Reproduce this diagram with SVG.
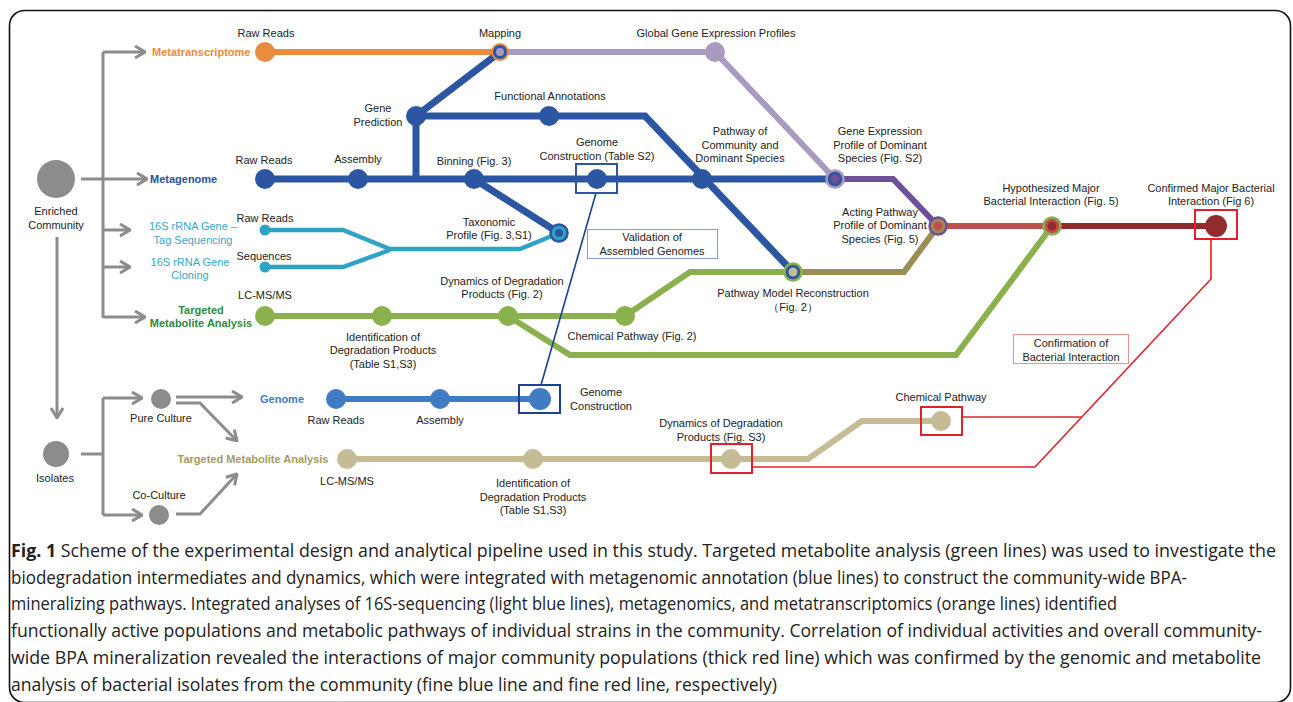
<svg xmlns="http://www.w3.org/2000/svg" width="1293" height="702" viewBox="0 0 1293 702">
  <style>
    text { font-family: "Liberation Sans", Arial, sans-serif; font-size: 11px; fill: #222; }
    .c { text-anchor: middle; }
    .hd { font-weight: bold; }
    .cap { font-family: "Open Sans", "Liberation Sans", sans-serif; font-size: 18px; fill: #222; }
    .ln { fill: none; stroke-linejoin: miter; stroke-linecap: butt; }
    .gray { fill: none; stroke: #8c8c8c; stroke-width: 3; }
    .blue { stroke: #2c56a2; stroke-width: 7; }
    .org { stroke: #eb8b3d; stroke-width: 6; }
    .lav { stroke: #a99ac1; stroke-width: 6; }
    .teal { stroke: #2ea3c3; stroke-width: 4.5; }
    .grn { stroke: #8bb14f; stroke-width: 6; }
    .olv { stroke: #9a8e55; stroke-width: 6; }
    .pur { stroke: #6e4f9a; stroke-width: 6; }
    .red { stroke: #c0504d; stroke-width: 6; }
    .dred { stroke: #922b2e; stroke-width: 6; }
    .mblue { stroke: #3f7cc3; stroke-width: 6; }
    .khk { stroke: #c5bc96; stroke-width: 6; }
    .fblue { stroke: #1f3f96; stroke-width: 1.6; }
    .fred { stroke: #e0202a; stroke-width: 1.6; }
  </style>
  <defs>
    <marker id="chev" viewBox="0 0 12 14" refX="11" refY="7" markerWidth="12" markerHeight="14" markerUnits="userSpaceOnUse" orient="auto">
      <polyline points="1,1 11,7 1,13" fill="none" stroke="#8c8c8c" stroke-width="3"/>
    </marker>
  </defs>

  <!-- frame -->
  <rect x="9.5" y="10.5" width="1281" height="692" rx="15" fill="#fff" stroke="#111" stroke-width="1.6"/>

  <!-- connectors -->
  <g id="connectors">
    <!-- sample distribution arrows -->
    <path class="gray" d="M81,179 H147" marker-end="url(#chev)"/>
    <path class="gray" d="M103,52 V318"/>
    <path class="gray" d="M103,52 H145" marker-end="url(#chev)"/>
    <path class="gray" d="M103,230 H130" marker-end="url(#chev)"/>
    <path class="gray" d="M103,267 H130" marker-end="url(#chev)"/>
    <path class="gray" d="M103,317 H145" marker-end="url(#chev)"/>
    <path class="gray" d="M57,237 V418" marker-end="url(#chev)"/>
    <path class="gray" d="M81,454 H103"/>
    <path class="gray" d="M103,398 V515"/>
    <path class="gray" d="M103,398 H142" marker-end="url(#chev)"/>
    <path class="gray" d="M103,515 H142" marker-end="url(#chev)"/>
    <path class="gray" d="M176,397 H242" marker-end="url(#chev)"/>
    <path class="gray" d="M176,403 H200 L237,441" marker-end="url(#chev)"/>
    <path class="gray" d="M176,514 H200 L237,474" marker-end="url(#chev)"/>

    <!-- metatranscriptome -->
    <path class="ln org" d="M265,52 H500"/>
    <path class="ln lav" d="M500,52 H715 L835,179"/>
    <!-- metagenome -->
    <path class="ln blue" d="M265,179 H835"/>
    <path class="ln blue" d="M416,182 V116"/>
    <path class="ln blue" d="M416,116 L500,52"/>
    <path class="ln blue" d="M416,116 H645 L793,272"/>
    <path class="ln blue" d="M474,179 L559,233"/>
    <!-- 16S -->
    <path class="ln teal" d="M265,230 H343 L390,249 H520 L559,233"/>
    <path class="ln teal" d="M265,267 H343 L390,250"/>
    <!-- targeted metabolite analysis (community) -->
    <path class="ln grn" d="M265,316 H625 L690,272 H793"/>
    <path class="ln grn" d="M508,316 L570,355 H956 L1052,226"/>
    <path class="ln olv" d="M793,272 H904 L938,226"/>
    <path class="ln pur" d="M835,179 H893 L938,226"/>
    <path class="ln red" d="M938,226 H1052"/>
    <path class="ln dred" d="M1052,226 H1216"/>
    <!-- isolates -->
    <path class="ln mblue" d="M336,399 H540"/>
    <path class="ln khk" d="M347,459 H808 L862,421 H941"/>
    <!-- validation links -->
    <path class="ln fblue" d="M596,193 L541,385"/>
    <path class="ln fred" d="M1211,239 V279 L1035,467 H752"/>
    <path class="ln fred" d="M962,417 H1081"/>
  </g>

  <!-- start nodes -->
  <g id="enriched-community">
    <circle cx="56" cy="179" r="19" fill="#8c8c8c"/>
    <text class="c" x="56" y="215">Enriched</text>
    <text class="c" x="56" y="229">Community</text>
  </g>
  <g id="isolates">
    <circle cx="56" cy="454" r="13" fill="#8c8c8c"/>
    <text class="c" x="55" y="482">Isolates</text>
  </g>
  <g id="pure-culture">
    <circle cx="161" cy="399" r="10" fill="#8c8c8c"/>
    <text class="c" x="161" y="422">Pure Culture</text>
  </g>
  <g id="co-culture">
    <circle cx="159" cy="515" r="10" fill="#8c8c8c"/>
    <text class="c" x="159" y="499">Co-Culture</text>
  </g>

  <!-- track titles -->
  <g id="titles">
    <text class="hd" x="152" y="56" style="fill:#eb8b3d">Metatranscriptome</text>
    <text class="hd" x="150" y="183" style="fill:#2c4f9c">Metagenome</text>
    <text class="c" x="193" y="230" style="fill:#39a6c9">16S rRNA Gene –</text>
    <text class="c" x="193" y="244" style="fill:#39a6c9">Tag Sequencing</text>
    <text class="c" x="190" y="266" style="fill:#39a6c9">16S rRNA Gene</text>
    <text class="c" x="190" y="279" style="fill:#39a6c9">Cloning</text>
    <text class="c hd" x="201" y="314" style="fill:#2d8a3c">Targeted</text>
    <text class="c hd" x="201" y="327" style="fill:#2d8a3c">Metabolite Analysis</text>
    <text class="c hd" x="282" y="403" style="fill:#3f7cc3">Genome</text>
    <text class="c hd" x="253" y="463" style="fill:#a69a5e">Targeted Metabolite Analysis</text>
  </g>

  <!-- metatranscriptome nodes -->
  <g id="mt-raw-reads">
    <circle cx="265" cy="52" r="10" fill="#eb8b3d"/>
    <text class="c" x="266" y="37">Raw Reads</text>
  </g>
  <g id="mapping">
    <circle cx="500" cy="52" r="8" fill="#2c56a2" stroke="#eb8b3d" stroke-width="2"/>
    <circle cx="500" cy="52" r="4" fill="#a99ac1"/>
    <text class="c" x="500" y="37">Mapping</text>
  </g>
  <g id="global-expression">
    <circle cx="715" cy="52" r="10" fill="#a99ac1"/>
    <text class="c" x="716" y="37">Global Gene Expression Profiles</text>
  </g>

  <!-- metagenome nodes -->
  <g id="mg-raw-reads">
    <circle cx="265" cy="179" r="10" fill="#2c56a2"/>
    <text class="c" x="264" y="164">Raw Reads</text>
  </g>
  <g id="mg-assembly">
    <circle cx="358" cy="179" r="10" fill="#2c56a2"/>
    <text class="c" x="358" y="163">Assembly</text>
  </g>
  <g id="gene-prediction">
    <circle cx="416" cy="116" r="10" fill="#2c56a2"/>
    <text class="c" x="378" y="112">Gene</text>
    <text class="c" x="378" y="126">Prediction</text>
  </g>
  <g id="functional-annotations">
    <circle cx="549" cy="116" r="10" fill="#2c56a2"/>
    <text class="c" x="550" y="100">Functional Annotations</text>
  </g>
  <g id="binning">
    <circle cx="474" cy="179" r="10" fill="#2c56a2"/>
    <text class="c" x="474" y="165">Binning (Fig. 3)</text>
  </g>
  <g id="genome-construction">
    <circle cx="597" cy="179" r="10" fill="#2c56a2"/>
    <rect x="576" y="164" width="41" height="29" fill="none" stroke="#2c56a2" stroke-width="2"/>
    <text class="c" x="597" y="146">Genome</text>
    <text class="c" x="597" y="160">Construction (Table S2)</text>
  </g>
  <g id="community-pathway">
    <circle cx="702" cy="179" r="10" fill="#2c56a2"/>
    <text class="c" x="740" y="135">Pathway of</text>
    <text class="c" x="740" y="149">Community and</text>
    <text class="c" x="740" y="162">Dominant Species</text>
  </g>
  <g id="dominant-expression">
    <circle cx="835" cy="179" r="8.5" fill="#2c56a2" stroke="#a99ac1" stroke-width="2.5"/>
    <circle cx="835" cy="179" r="4.5" fill="#6e4f9a"/>
    <text class="c" x="880" y="135">Gene Expression</text>
    <text class="c" x="880" y="149">Profile of Dominant</text>
    <text class="c" x="880" y="162">Species (Fig. S2)</text>
  </g>

  <!-- 16S nodes -->
  <g id="tag-raw-reads">
    <circle cx="265" cy="230" r="5.5" fill="#2ea3c3"/>
    <text class="c" x="265" y="222">Raw Reads</text>
  </g>
  <g id="clone-sequences">
    <circle cx="265" cy="267" r="5.5" fill="#2ea3c3"/>
    <text class="c" x="264" y="260">Sequences</text>
  </g>
  <g id="taxonomic-profile">
    <circle cx="559" cy="233" r="8.5" fill="#2ea3c3" stroke="#2c56a2" stroke-width="2.5"/>
    <circle cx="559" cy="233" r="4" fill="#2c56a2"/>
    <text class="c" x="489" y="226">Taxonomic</text>
    <text class="c" x="489" y="239">Profile (Fig. 3,S1)</text>
  </g>

  <g id="validation-note">
    <rect x="587.5" y="229.5" width="130" height="29" fill="#fff" stroke="#8a9ccb" stroke-width="1"/>
    <text class="c" x="652" y="241">Validation of</text>
    <text class="c" x="652" y="255">Assembled Genomes</text>
  </g>

  <!-- community metabolite nodes -->
  <g id="lcms">
    <circle cx="265" cy="316" r="10" fill="#8bb14f"/>
    <text class="c" x="265" y="299">LC-MS/MS</text>
  </g>
  <g id="identification">
    <circle cx="382" cy="316" r="10" fill="#8bb14f"/>
    <text class="c" x="383" y="341">Identification of</text>
    <text class="c" x="383" y="354">Degradation Products</text>
    <text class="c" x="383" y="368">(Table S1,S3)</text>
  </g>
  <g id="degradation-dynamics">
    <circle cx="508" cy="316" r="10" fill="#8bb14f"/>
    <text class="c" x="502" y="285">Dynamics of Degradation</text>
    <text class="c" x="502" y="298">Products (Fig. 2)</text>
  </g>
  <g id="chemical-pathway">
    <circle cx="625" cy="316" r="10" fill="#8bb14f"/>
    <text class="c" x="632" y="340">Chemical Pathway (Fig. 2)</text>
  </g>
  <g id="pathway-model">
    <circle cx="793" cy="272" r="8.5" fill="#2c56a2" stroke="#8bb14f" stroke-width="2.5"/>
    <circle cx="793" cy="272" r="4.5" fill="#c5bc96"/>
    <text class="c" x="793" y="297">Pathway Model Reconstruction</text>
    <text class="c" x="793" y="311">（Fig. 2）</text>
  </g>
  <g id="acting-pathway">
    <circle cx="938" cy="226" r="8.5" fill="#9a8e55" stroke="#6e4f9a" stroke-width="2.5"/>
    <circle cx="938" cy="226" r="4.5" fill="#c0504d"/>
    <text class="c" x="880" y="216">Acting Pathway</text>
    <text class="c" x="880" y="229">Profile of Dominant</text>
    <text class="c" x="880" y="243">Species (Fig. 5)</text>
  </g>
  <g id="hypothesized-interaction">
    <circle cx="1052" cy="226" r="8.5" fill="#c0504d" stroke="#8bb14f" stroke-width="2.5"/>
    <circle cx="1052" cy="226" r="4.5" fill="#922b2e"/>
    <text class="c" x="1051" y="192">Hypothesized Major</text>
    <text class="c" x="1051" y="205">Bacterial Interaction (Fig. 5)</text>
  </g>
  <g id="confirmed-interaction">
    <circle cx="1216" cy="226" r="11" fill="#922b2e"/>
    <rect x="1195" y="210" width="42" height="29" fill="none" stroke="#e0202a" stroke-width="2"/>
    <text class="c" x="1211" y="192">Confirmed Major Bacterial</text>
    <text class="c" x="1211" y="205">Interaction (Fig 6)</text>
  </g>
  <g id="confirmation-note">
    <rect x="1013.5" y="334.5" width="115" height="29" fill="#fff" stroke="#f09090" stroke-width="1"/>
    <text class="c" x="1071" y="347">Confirmation of</text>
    <text class="c" x="1071" y="361">Bacterial Interaction</text>
  </g>

  <!-- isolate genome nodes -->
  <g id="iso-raw-reads">
    <circle cx="336" cy="399" r="10" fill="#3f7cc3"/>
    <text class="c" x="336" y="424">Raw Reads</text>
  </g>
  <g id="iso-assembly">
    <circle cx="440" cy="399" r="10" fill="#3f7cc3"/>
    <text class="c" x="440" y="424">Assembly</text>
  </g>
  <g id="iso-genome-construction">
    <circle cx="540" cy="399" r="11" fill="#3f7cc3"/>
    <rect x="519" y="385" width="41" height="28" fill="none" stroke="#1f3f96" stroke-width="2"/>
    <text class="c" x="601" y="396">Genome</text>
    <text class="c" x="601" y="410">Construction</text>
  </g>

  <!-- isolate metabolite nodes -->
  <g id="iso-lcms">
    <circle cx="347" cy="459" r="10" fill="#c5bc96"/>
    <text class="c" x="347" y="485">LC-MS/MS</text>
  </g>
  <g id="iso-identification">
    <circle cx="533" cy="459" r="10" fill="#c5bc96"/>
    <text class="c" x="533" y="487">Identification of</text>
    <text class="c" x="533" y="501">Degradation Products</text>
    <text class="c" x="533" y="514">(Table S1,S3)</text>
  </g>
  <g id="iso-dynamics">
    <circle cx="731" cy="459" r="10" fill="#c5bc96"/>
    <rect x="711" y="444" width="41" height="29" fill="none" stroke="#e0202a" stroke-width="2"/>
    <text class="c" x="721" y="427">Dynamics of Degradation</text>
    <text class="c" x="721" y="441">Products (Fig. S3)</text>
  </g>
  <g id="iso-chemical-pathway">
    <circle cx="941" cy="421" r="10" fill="#c5bc96"/>
    <rect x="921" y="407" width="41" height="28" fill="none" stroke="#e0202a" stroke-width="2"/>
    <text class="c" x="941" y="401">Chemical Pathway</text>
  </g>

  <!-- caption -->
  <g id="caption">
    <text class="cap" x="11" y="557" textLength="1265" lengthAdjust="spacingAndGlyphs"><tspan font-weight="bold">Fig. 1</tspan> Scheme of the experimental design and analytical pipeline used in this study. Targeted metabolite analysis (green lines) was used to investigate the</text>
    <text class="cap" x="11" y="584" textLength="1176" lengthAdjust="spacingAndGlyphs">biodegradation intermediates and dynamics, which were integrated with metagenomic annotation (blue lines) to construct the community-wide BPA-</text>
    <text class="cap" x="11" y="610" textLength="1106" lengthAdjust="spacingAndGlyphs">mineralizing pathways. Integrated analyses of 16S-sequencing (light blue lines), metagenomics, and metatranscriptomics (orange lines) identified</text>
    <text class="cap" x="11" y="637" textLength="1251" lengthAdjust="spacingAndGlyphs">functionally active populations and metabolic pathways of individual strains in the community. Correlation of individual activities and overall community-</text>
    <text class="cap" x="11" y="664" textLength="1250" lengthAdjust="spacingAndGlyphs">wide BPA mineralization revealed the interactions of major community populations (thick red line) which was confirmed by the genomic and metabolite</text>
    <text class="cap" x="11" y="691" textLength="766" lengthAdjust="spacingAndGlyphs">analysis of bacterial isolates from the community (fine blue line and fine red line, respectively)</text>
  </g>
</svg>
